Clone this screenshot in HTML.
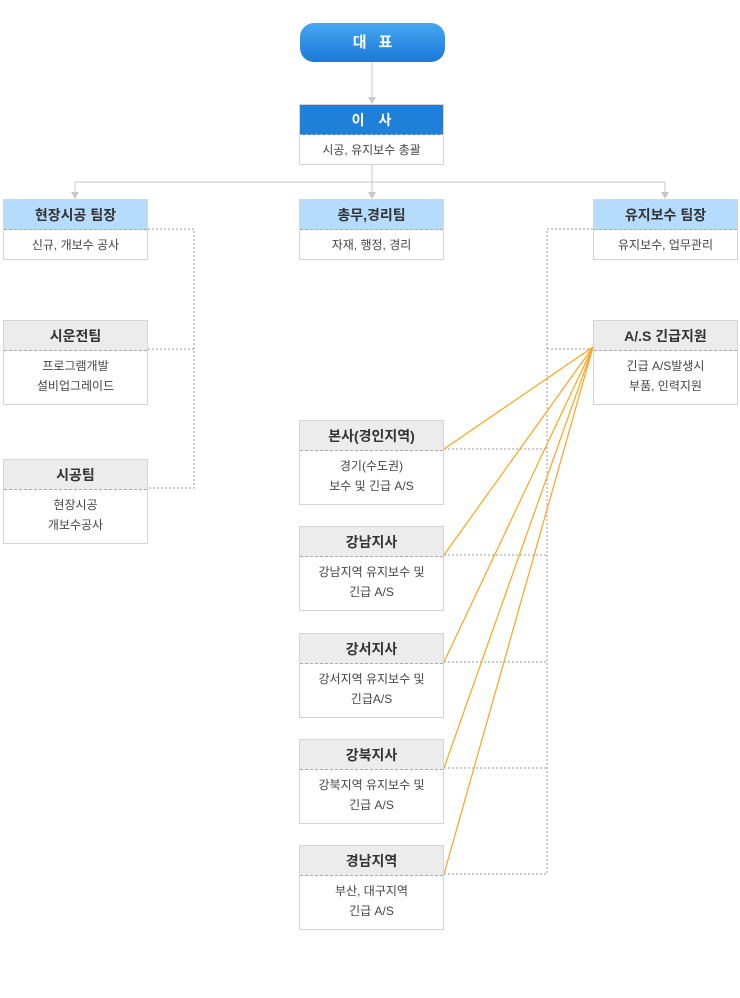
<!DOCTYPE html>
<html><head><meta charset="utf-8"><style>
body{margin:0;width:740px;height:998px;background:#fff;position:relative;overflow:hidden;font-family:"Liberation Sans","Noto Sans CJK KR",sans-serif;}
.box{position:absolute;width:145px;border:1px solid #d4d4d4;background:#fff;box-sizing:border-box;}
.hd{height:30px;line-height:30px;text-align:center;font-size:14px;font-weight:bold;color:#333;background:#ececec;border-bottom:1px dashed #aaa;box-sizing:border-box;}
.hd.blue{background:#b5dcfd;}
.hd.dark{background:#1e80d8;color:#fff;letter-spacing:14px;text-indent:14px;}
.bd{text-align:center;font-size:12px;color:#444;line-height:20px;padding-top:5px;}
svg{position:absolute;left:0;top:0;}
#ceo{position:absolute;left:300px;top:23px;width:145px;height:39px;border-radius:14px;background:linear-gradient(#45a8f2,#1a78d8);color:#fff;font-weight:bold;font-size:15px;text-align:center;line-height:39px;letter-spacing:12px;text-indent:12px;}
</style></head><body>
<svg width="740" height="998">
<g stroke="#c8c8c8" fill="none">
<line x1="372" y1="62" x2="372" y2="100"/>
<line x1="372" y1="164" x2="372" y2="196"/>
<line x1="75" y1="182" x2="665" y2="182"/>
<line x1="75" y1="182" x2="75" y2="196"/>
<line x1="665" y1="182" x2="665" y2="196"/>
</g>
<g fill="#c8c8c8">
<polygon points="368,97 376,97 372,104"/>
<polygon points="368,192 376,192 372,199"/>
<polygon points="71,192 79,192 75,199"/>
<polygon points="661,192 669,192 665,199"/>
</g>
<g stroke="#999" stroke-dasharray="2,2" fill="none">
<polyline points="148,229 194,229 194,488 148,488"/>
<line x1="148" y1="349" x2="194" y2="349"/>
<polyline points="593,229 547,229 547,874 444,874"/>
<line x1="547" y1="349" x2="593" y2="349"/>
<line x1="444" y1="449" x2="547" y2="449"/>
<line x1="444" y1="555" x2="547" y2="555"/>
<line x1="444" y1="662" x2="547" y2="662"/>
<line x1="444" y1="768" x2="547" y2="768"/>
</g>
<g stroke="#ffa31a" stroke-width="1.2">
<line x1="593" y1="347" x2="444" y2="449"/>
<line x1="593" y1="347" x2="444" y2="555"/>
<line x1="593" y1="347" x2="444" y2="662"/>
<line x1="593" y1="347" x2="444" y2="768"/>
<line x1="593" y1="347" x2="444" y2="874"/>
</g>
</svg>
<div id="ceo">대표</div>
<div class="box" style="left:299px;top:104px;height:61px"><div class="hd dark">이사</div><div class="bd">시공, 유지보수 총괄</div></div>
<div class="box" style="left:3px;top:199px;height:61px"><div class="hd blue">현장시공 팀장</div><div class="bd">신규, 개보수 공사</div></div>
<div class="box" style="left:299px;top:199px;height:61px"><div class="hd blue">총무,경리팀</div><div class="bd">자재, 행정, 경리</div></div>
<div class="box" style="left:593px;top:199px;height:61px"><div class="hd blue">유지보수 팀장</div><div class="bd">유지보수, 업무관리</div></div>
<div class="box" style="left:3px;top:320px;height:85px"><div class="hd">시운전팀</div><div class="bd">프로그램개발<br>설비업그레이드</div></div>
<div class="box" style="left:3px;top:459px;height:85px"><div class="hd">시공팀</div><div class="bd">현장시공<br>개보수공사</div></div>
<div class="box" style="left:593px;top:320px;height:85px"><div class="hd">A/.S 긴급지원</div><div class="bd">긴급 A/S발생시<br>부품, 인력지원</div></div>
<div class="box" style="left:299px;top:420px;height:85px"><div class="hd">본사(경인지역)</div><div class="bd">경기(수도권)<br>보수 및 긴급 A/S</div></div>
<div class="box" style="left:299px;top:526px;height:85px"><div class="hd">강남지사</div><div class="bd">강남지역 유지보수 및<br>긴급 A/S</div></div>
<div class="box" style="left:299px;top:633px;height:85px"><div class="hd">강서지사</div><div class="bd">강서지역 유지보수 및<br>긴급A/S</div></div>
<div class="box" style="left:299px;top:739px;height:85px"><div class="hd">강북지사</div><div class="bd">강북지역 유지보수 및<br>긴급 A/S</div></div>
<div class="box" style="left:299px;top:845px;height:85px"><div class="hd">경남지역</div><div class="bd">부산, 대구지역<br>긴급 A/S</div></div>
</body></html>
